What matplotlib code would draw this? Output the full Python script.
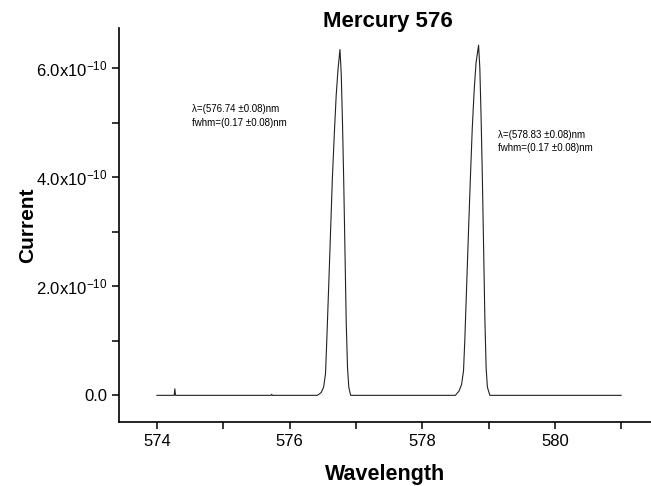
import numpy as np
import matplotlib.pyplot as plt
from matplotlib.ticker import MultipleLocator, FuncFormatter

plt.rcParams['font.family'] = ['Liberation Sans', 'DejaVu Sans']
plt.rcParams['mathtext.fontset'] = 'custom'
plt.rcParams['mathtext.rm'] = 'Liberation Sans'
plt.rcParams['mathtext.it'] = 'Liberation Sans:italic'

# spectrum (wavelength in nm, current in 1e-10 A)
base_wl = [574.00, 574.26, 574.27, 574.28, 575.72, 575.73, 575.74]
base_i = [0.0, 0.0, 0.12, 0.0, 0.0, 0.02, 0.0]

peak1_wl = [576.420, 576.476, 576.514, 576.542, 576.561, 576.590, 576.618, 576.646, 576.675, 576.703,
            576.732, 576.760, 576.779, 576.798, 576.817, 576.836, 576.855, 576.874, 576.893, 576.921]
peak1_i = [0.0, 0.05, 0.15, 0.4, 1.0, 2.0, 3.0, 4.0, 4.8, 5.5,
           6.0, 6.34, 5.9, 5.0, 3.9, 2.6, 1.3, 0.5, 0.15, 0.0]

peak2_wl = [578.500, 578.556, 578.594, 578.623, 578.642, 578.670, 578.698, 578.727, 578.755, 578.784,
            578.812, 578.850, 578.869, 578.888, 578.907, 578.926, 578.945, 578.964, 578.983, 579.020]
peak2_i = [0.0, 0.08, 0.2, 0.45, 1.0, 2.0, 3.0, 4.0, 4.9, 5.6,
           6.1, 6.42, 6.0, 5.1, 4.0, 2.7, 1.4, 0.5, 0.15, 0.0]

end_wl = [581.0]
end_i = [0.0]

wl = np.array(base_wl + peak1_wl + peak2_wl + end_wl)
cur = np.array(base_i + peak1_i + peak2_i + end_i) * 1e-10

labels = ["\u03bb=(576.74 \u00b10.08)nm\nfwhm=(0.17 \u00b10.08)nm",
          "\u03bb=(578.83 \u00b10.08)nm\nfwhm=(0.17 \u00b10.08)nm"]
label_pos = [(574.53, 5.34e-10), (579.14, 4.87e-10)]

fig = plt.figure(figsize=(6.51, 4.86), dpi=100)
ax = fig.add_axes([0.183, 0.132, 0.817, 0.811])

ax.plot(wl, cur, color='#222222', lw=0.8)

for txt, (x, y) in zip(labels, label_pos):
    ax.text(x, y, txt, fontsize=7, va='top', ha='left', linespacing=1.45)

ax.set_xlim(573.43, 581.45)
ax.set_ylim(-0.486e-10, 6.74e-10)

ax.xaxis.set_major_locator(MultipleLocator(2))
ax.xaxis.set_minor_locator(MultipleLocator(1))
ax.yaxis.set_major_locator(MultipleLocator(2e-10))
ax.yaxis.set_minor_locator(MultipleLocator(1e-10))


def yfmt(v, pos):
    if abs(v) < 1e-14:
        return '0.0'
    return r'$%.1f\mathrm{x}10^{-10}$' % (v / 1e-10)


ax.yaxis.set_major_formatter(FuncFormatter(yfmt))

for s in ['top', 'right']:
    ax.spines[s].set_visible(False)
for s in ['left', 'bottom']:
    ax.spines[s].set_linewidth(1.2)

ax.tick_params(which='major', direction='out', length=5, width=1.1, labelsize=12)
ax.tick_params(which='minor', direction='out', length=5, width=1.1)

# title sits a bit lower than the default, close to the top of the left axis
fig.text(0.596, 1 - 22 / 486, 'Mercury 576', fontsize=16, fontweight='bold',
         ha='center', va='center')
ax.set_xlabel('Wavelength', fontsize=15.5, fontweight='bold', labelpad=11)
ax.set_ylabel('Current', fontsize=15, fontweight='bold', labelpad=-1)

fig.savefig('out.png', dpi=100)
